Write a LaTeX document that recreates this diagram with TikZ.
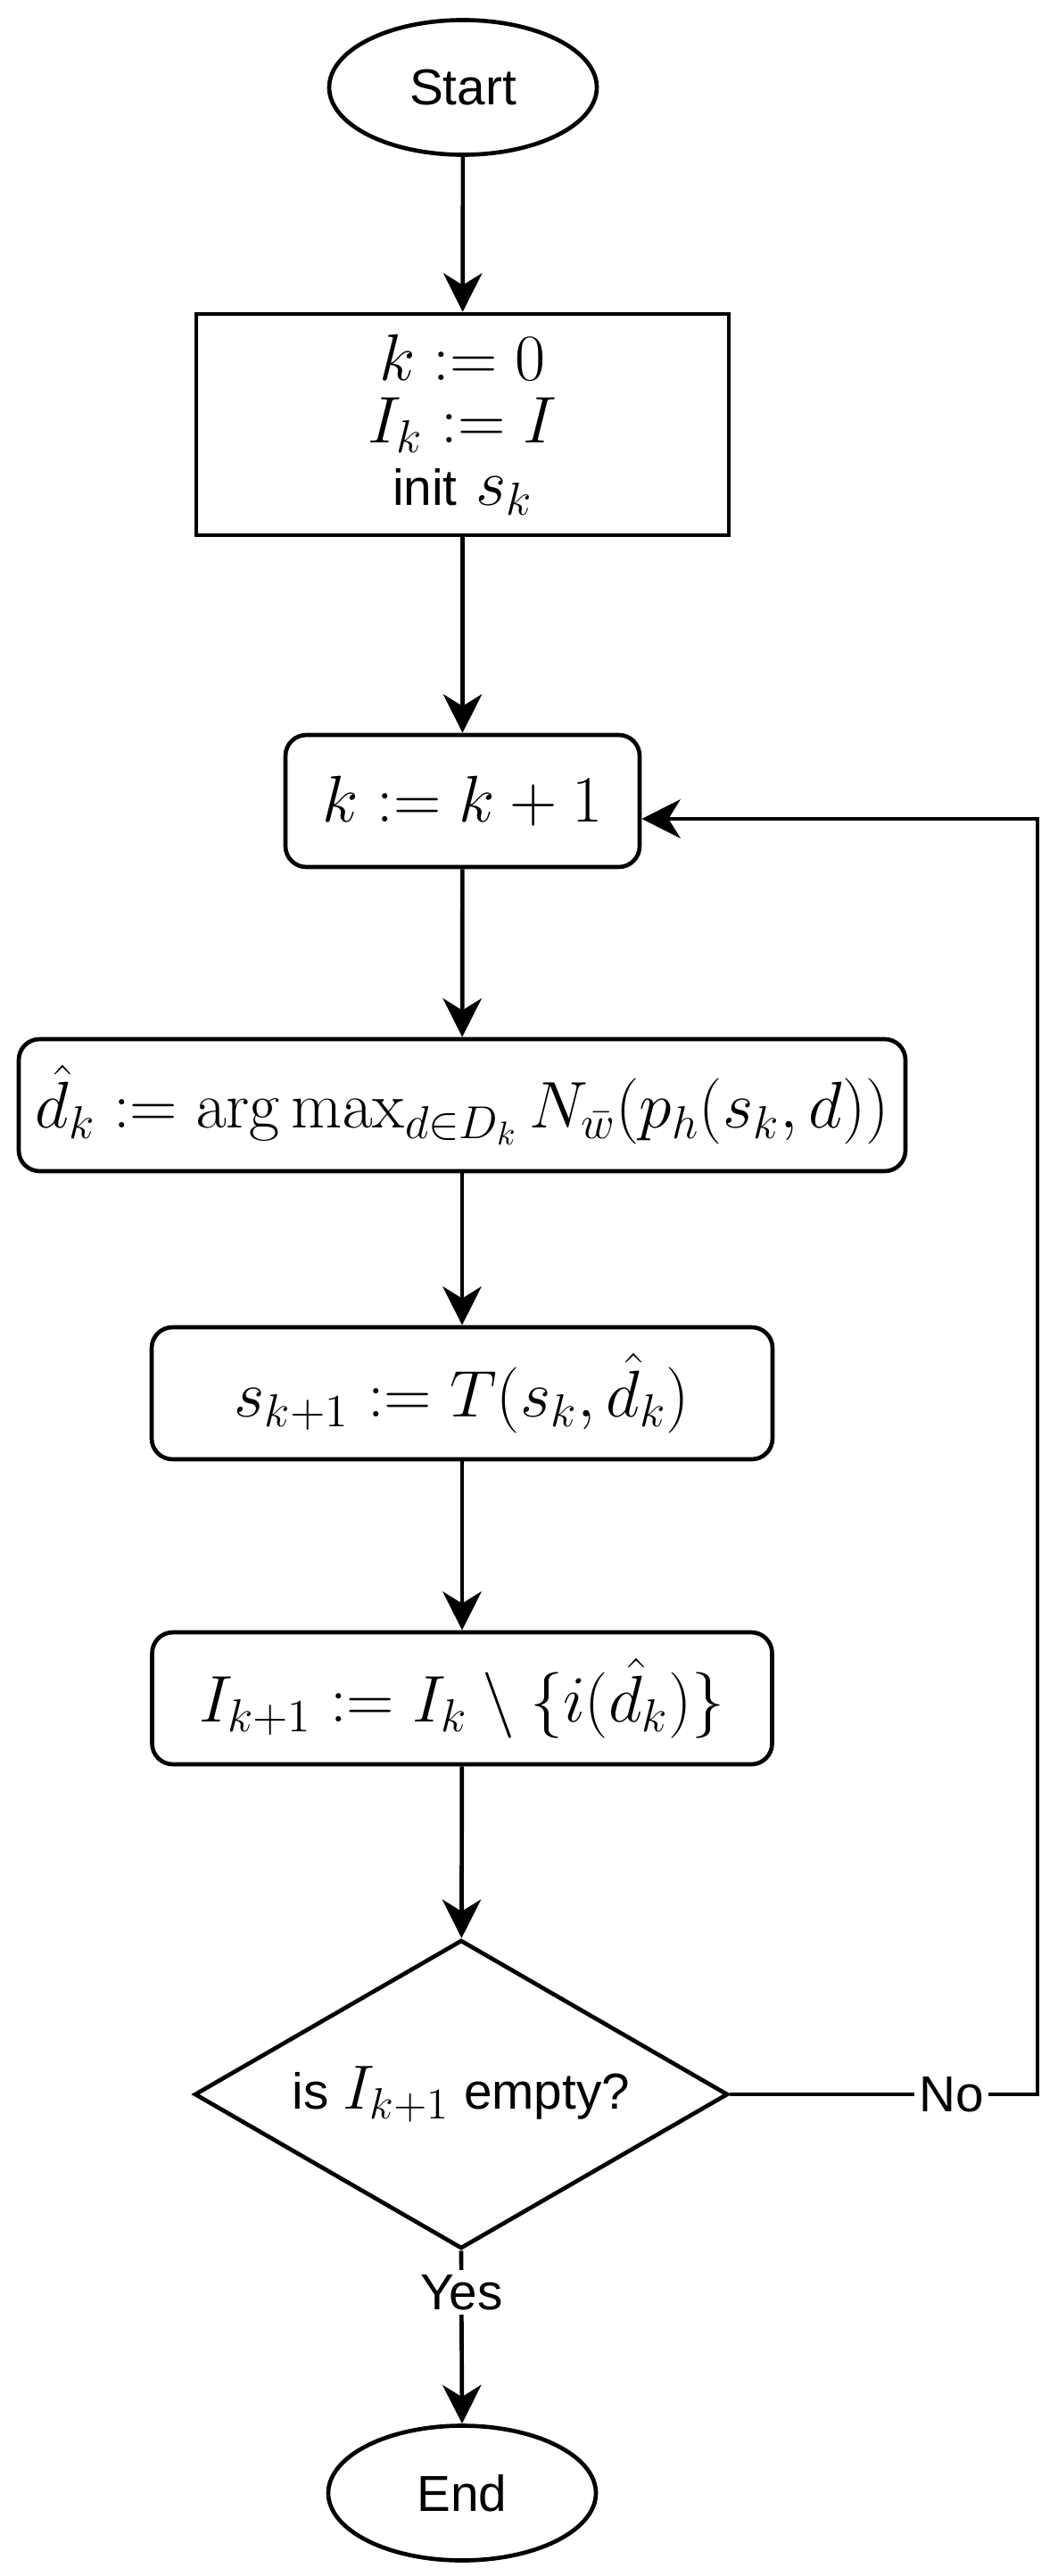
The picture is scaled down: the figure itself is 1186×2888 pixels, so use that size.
\RequirePackage{fix-cm}
\documentclass[tikz,border=0pt]{standalone}
\usepackage[no-math]{fontspec}
\setmainfont{Liberation Sans}
\usetikzlibrary{shapes.geometric,arrows.meta,calc}
\begin{document}
\begin{tikzpicture}[x=0.3pt,y=-0.3pt,
  line width=1.4pt,
  txt/.style={font=\fontsize{17}{20}\selectfont},
  mth/.style={font=\fontsize{22.2}{21}\selectfont},
  term/.style={draw,ellipse,minimum width=90pt,minimum height=45.3pt,inner sep=0pt,txt},
  plainbox/.style={draw,rectangle,inner sep=0pt,mth,align=center},
  rbox/.style={draw,rectangle,rounded corners=7pt,inner sep=0pt,mth,align=center,minimum height=44.4pt},
  decision/.style={draw,diamond,shape aspect=1.728,minimum width=179.4pt,minimum height=103.8pt,inner sep=0pt,txt},
  arr/.style={-{Stealth[length=13pt,width=13pt,inset=4pt]}},
  lbl/.style={fill=white,inner sep=1.5pt,txt}
]
\useasboundingbox (0,0) rectangle (1186,2888);
\node[term] (start) at (519,98) {Start};
\node[plainbox,minimum width=179.1pt,minimum height=74.4pt] (init) at (518.5,476)
  {$k := 0$\\ $I_k := I$\\ {\fontsize{17}{20}\selectfont init} $s_k$};
\node[rbox,minimum width=119.1pt] (inc) at (518.5,898) {$k := k+1$};
\node[rbox,minimum width=298.2pt] (sel) at (518,1239)
  {$\hat{d}_k := \arg\max_{d\in D_k} N_{\bar{w}}(p_h(s_k,d))$};
\node[rbox,minimum width=208.8pt] (trans) at (518,1562) {$s_{k+1} := T(s_k,\hat{d}_k)$};
\node[rbox,minimum width=208.5pt] (upd) at (518,1904) {$I_{k+1} := I_k \setminus \{i(\hat{d}_k)\}$};
\node[decision] (dec) at (517,2348) {is {\fontsize{21}{21}\selectfont$I_{k+1}$} empty?};
\node[term] (end) at (518,2795) {End};
\coordinate (lp) at (1163,918);

\draw[arr] (start) -- (init);
\draw[arr] (init) -- (inc);
\draw[arr] (inc) -- (sel);
\draw[arr] (sel) -- (trans);
\draw[arr] (trans) -- (upd);
\draw[arr] (upd) -- (dec);
\draw[arr] (dec.south) -- node[lbl,pos=0.24] {Yes} (end.north);
\draw[arr] (dec.east) -- node[lbl,pos=0.72] {No} (dec.east -| lp) -- (lp) -- (inc.east |- lp);
\end{tikzpicture}
\end{document}
